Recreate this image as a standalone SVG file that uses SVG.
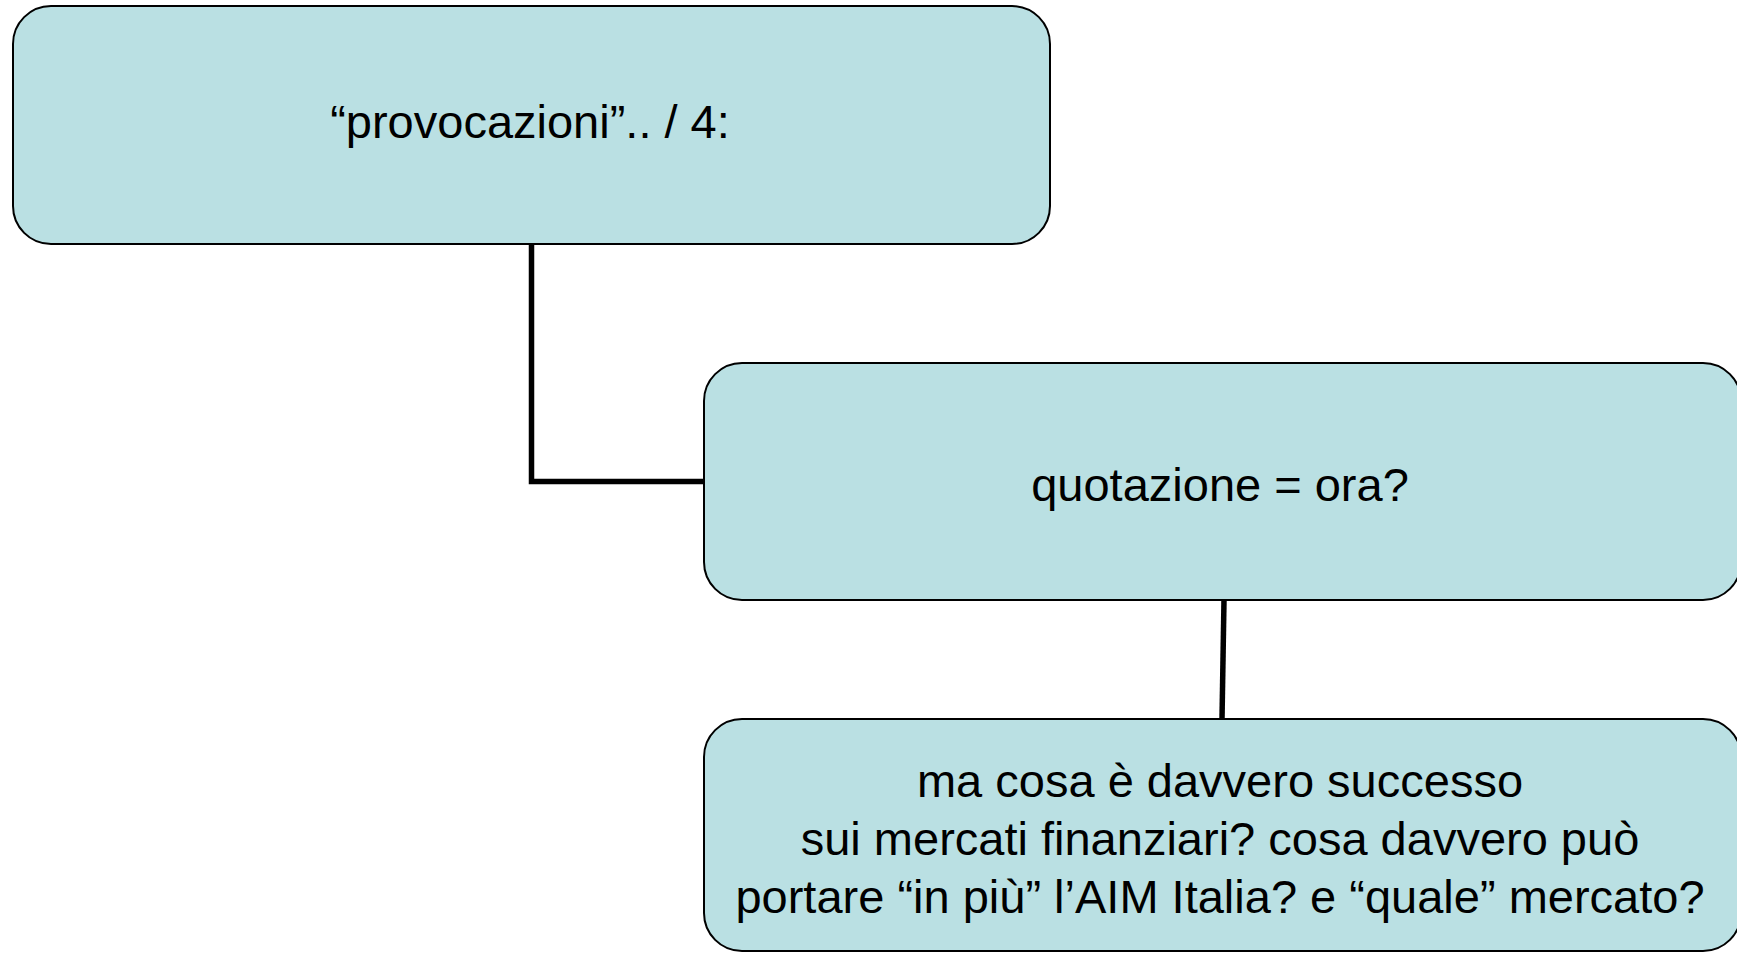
<svg xmlns="http://www.w3.org/2000/svg" width="1737" height="953" viewBox="0 0 1737 953">
<style>
.node{fill:#BAE0E3;stroke:#000;stroke-width:2}
.lbl{font-family:"Liberation Sans",Arial,sans-serif;font-size:47px;fill:#000;text-anchor:middle}
.conn{fill:none;stroke:#000;stroke-width:5.5}
</style>
<rect x="0" y="0" width="1737" height="953" fill="#fff"/>
<g id="connectors">
<polyline class="conn" points="531.5,244 531.5,481.5 704,481.5"/>
<line class="conn" x1="1224" y1="600" x2="1222" y2="719"/>
</g>
<g id="node1">
<rect class="node" x="13" y="6" width="1037" height="238" rx="38" ry="38"/>
<text class="lbl" x="530" y="138">“provocazioni”.. / 4:</text>
</g>
<g id="node2">
<rect class="node" x="704" y="363" width="1037" height="237" rx="38" ry="38"/>
<text class="lbl" x="1220" y="501">quotazione = ora?</text>
</g>
<g id="node3">
<rect class="node" x="704" y="719" width="1037" height="232" rx="38" ry="38"/>
<text class="lbl" x="1220" y="797">ma cosa è davvero successo</text>
<text class="lbl" x="1220" y="855">sui mercati finanziari? cosa davvero può</text>
<text class="lbl" x="1220" y="913">portare “in più” l’AIM Italia? e “quale” mercato?</text>
</g>
</svg>
